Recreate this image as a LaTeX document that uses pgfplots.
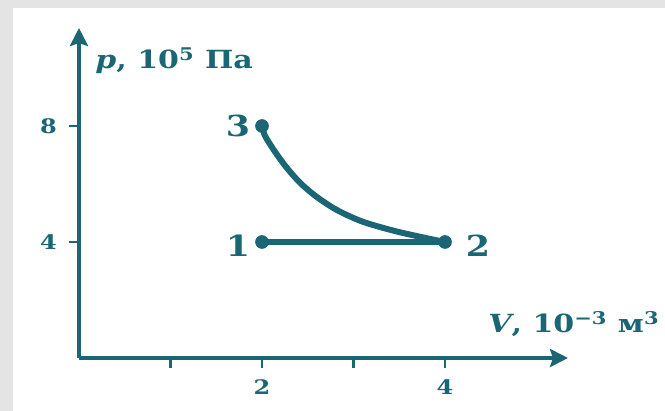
\documentclass[border=0pt]{standalone}
\usepackage{fontspec}
\setmainfont{DejaVu Serif}[FakeStretch=1.2]
\usepackage{pgfplots}
\pgfplotsset{compat=1.18}
\usetikzlibrary{arrows.meta}
\definecolor{ink}{RGB}{27,102,117}
\definecolor{frame}{RGB}{228,228,228}
\begin{document}
\begin{tikzpicture}
% page background with a thin grey margin on the left and top
\fill[frame] (-39.5pt,-26.5pt) rectangle (293pt,179pt);
\fill[white] (-33pt,-26.5pt) rectangle (293pt,175pt);
\begin{axis}[
  scale only axis, width=244.5pt, height=165pt,
  xmin=0, xmax=5.344, ymin=0, ymax=11.379,
  axis lines=left,
  axis line style={ink, line width=2.3pt, -{Stealth[length=9pt,width=9pt,inset=1.5pt]}},
  xtick={2,4}, ytick={4,8}, minor xtick={1,3},
  tick align=outside, major tick length=5pt, minor tick length=5pt,
  tick style={ink, line width=1.4pt},
  ticklabel style={ink, font=\fontsize{10}{12}\selectfont\bfseries},
  xticklabel style={yshift=-2.5pt},
  yticklabel style={xshift=-2.5pt},
  /pgf/number format/assume math mode=true,
  clip=false,
]
% isobaric process 1 -> 2
\addplot[ink, line width=3pt, line cap=round] coordinates {(2,4) (4,4)};
% process 3 -> 2 (curve)
\addplot[ink, line width=3pt, line cap=round, smooth] coordinates {
  (2,8) (2.03,7.68) (2.09,7.36) (2.16,7.03) (2.27,6.56) (2.42,6.03)
  (2.60,5.55) (2.82,5.10) (3.10,4.70) (3.45,4.38) (3.80,4.13) (4,4)};
% states 1, 2, 3
\addplot[ink, only marks, mark=*, mark size=3.2pt] coordinates {(2,4) (4,4) (2,8)};
\node[ink, font=\fontsize{14.5}{17}\selectfont\bfseries] at (axis cs:1.738,8.0) {3};
\node[ink, font=\fontsize{14.5}{17}\selectfont\bfseries] at (axis cs:1.738,3.87) {1};
\node[ink, font=\fontsize{14.5}{17}\selectfont\bfseries] at (axis cs:4.36,3.87) {2};
% axis titles
\node[ink, anchor=base west, inner sep=0pt, font=\fontsize{12.5}{14}\selectfont\bfseries]
  at (axis cs:0.175,9.966) {\textit{p}, 10\textsuperscript{5} Па};
\node[ink, anchor=base west, inner sep=0pt, font=\fontsize{12.5}{14}\selectfont\bfseries]
  at (axis cs:4.47,0.862) {\textit{V}, 10\textsuperscript{−3} м\textsuperscript{3}};
\end{axis}
\end{tikzpicture}
\end{document}
